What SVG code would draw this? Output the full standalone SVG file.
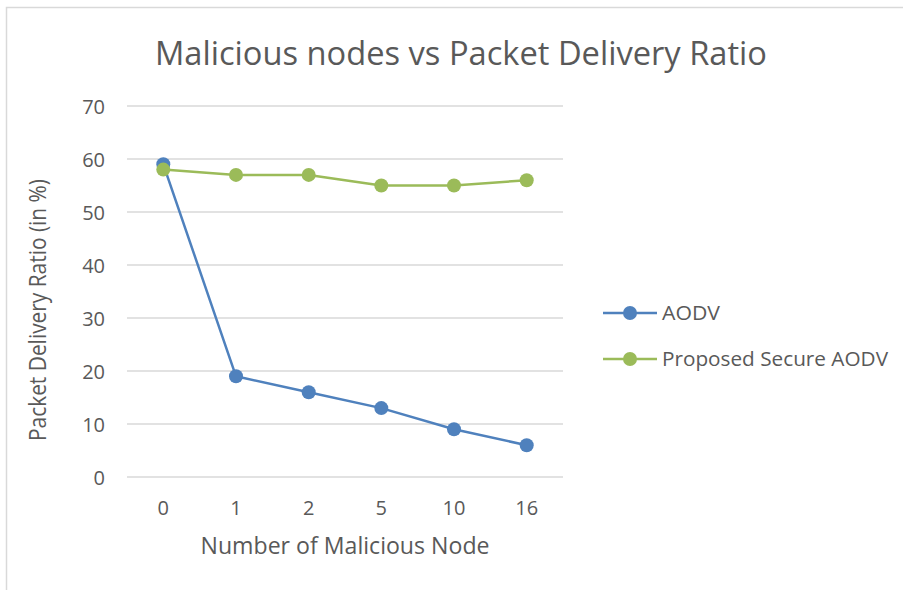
<svg xmlns="http://www.w3.org/2000/svg" width="903" height="590" viewBox="0 0 903 590">
<style>
text{font-family:"Open Sans","Liberation Sans",sans-serif;fill:#595959}
.grid{stroke:#d9d9d9;stroke-width:1.5}
.tick{font-size:20px}
.ytick{text-anchor:end}
.xtick{text-anchor:middle}
.blue{stroke:#4f81bd;stroke-width:2.5;fill:none;stroke-linejoin:round}
.green{stroke:#9bbb59;stroke-width:2.5;fill:none;stroke-linejoin:round}
.bm{fill:#4f81bd}
.gm{fill:#9bbb59}
</style>
<rect x="0" y="0" width="903" height="590" fill="#fff"/>
<rect x="6.5" y="7.5" width="910" height="600" fill="#fff" stroke="#d9d9d9" stroke-width="1.5"/>
<g id="title"><text x="461" y="65" font-size="33" text-anchor="middle" textLength="612" lengthAdjust="spacingAndGlyphs">Malicious nodes vs Packet Delivery Ratio</text></g>
<g id="gridlines">
<line class="grid" x1="127" y1="106" x2="563" y2="106"/>
<line class="grid" x1="127" y1="159" x2="563" y2="159"/>
<line class="grid" x1="127" y1="212" x2="563" y2="212"/>
<line class="grid" x1="127" y1="265" x2="563" y2="265"/>
<line class="grid" x1="127" y1="318" x2="563" y2="318"/>
<line class="grid" x1="127" y1="371" x2="563" y2="371"/>
<line class="grid" x1="127" y1="424" x2="563" y2="424"/>
<line class="grid" x1="127" y1="477" x2="563" y2="477"/>
</g>
<g id="y-axis" class="tick">
<text class="ytick" x="105" y="114">70</text>
<text class="ytick" x="105" y="167">60</text>
<text class="ytick" x="105" y="220">50</text>
<text class="ytick" x="105" y="273">40</text>
<text class="ytick" x="105" y="326">30</text>
<text class="ytick" x="105" y="379">20</text>
<text class="ytick" x="105" y="432">10</text>
<text class="ytick" x="105" y="485">0</text>
</g>
<g id="x-axis" class="tick">
<text class="xtick" x="163.3" y="515">0</text>
<text class="xtick" x="236" y="515">1</text>
<text class="xtick" x="308.7" y="515">2</text>
<text class="xtick" x="381.3" y="515">5</text>
<text class="xtick" x="454" y="515">10</text>
<text class="xtick" x="526.7" y="515">16</text>
</g>
<g id="x-title"><text x="345" y="554" font-size="24" text-anchor="middle" textLength="289" lengthAdjust="spacingAndGlyphs">Number of Malicious Node</text></g>
<g id="y-title"><text x="46" y="310" font-size="24" text-anchor="middle" transform="rotate(-90 46 310)" textLength="262" lengthAdjust="spacingAndGlyphs">Packet Delivery Ratio (in %)</text></g>
<g id="connectors">
<polyline id="aodv-line" class="blue" points="163.3,164.3 236,376.3 308.7,392.2 381.3,408.1 454,429.3 526.7,445.2"/>
<polyline id="secure-line" class="green" points="163.3,169.6 236,174.9 308.7,174.9 381.3,185.5 454,185.5 526.7,180.2"/>
</g>
<g id="aodv-points" class="bm">
<circle cx="163.3" cy="164.3" r="7"/>
<circle cx="236" cy="376.3" r="7"/>
<circle cx="308.7" cy="392.2" r="7"/>
<circle cx="381.3" cy="408.1" r="7"/>
<circle cx="454" cy="429.3" r="7"/>
<circle cx="526.7" cy="445.2" r="7"/>
</g>
<g id="secure-points" class="gm">
<circle cx="163.3" cy="169.6" r="7"/>
<circle cx="236" cy="174.9" r="7"/>
<circle cx="308.7" cy="174.9" r="7"/>
<circle cx="381.3" cy="185.5" r="7"/>
<circle cx="454" cy="185.5" r="7"/>
<circle cx="526.7" cy="180.2" r="7"/>
</g>
<g id="legend-aodv">
<line class="blue" x1="603" y1="313" x2="657" y2="313"/>
<circle class="bm" cx="630" cy="313" r="7"/>
<text x="662" y="320" font-size="20" textLength="58" lengthAdjust="spacingAndGlyphs">AODV</text>
</g>
<g id="legend-secure">
<line class="green" x1="603" y1="359" x2="657" y2="359"/>
<circle class="gm" cx="630" cy="359" r="7"/>
<text x="662" y="366" font-size="20" textLength="226" lengthAdjust="spacingAndGlyphs">Proposed Secure AODV</text>
</g>
</svg>
